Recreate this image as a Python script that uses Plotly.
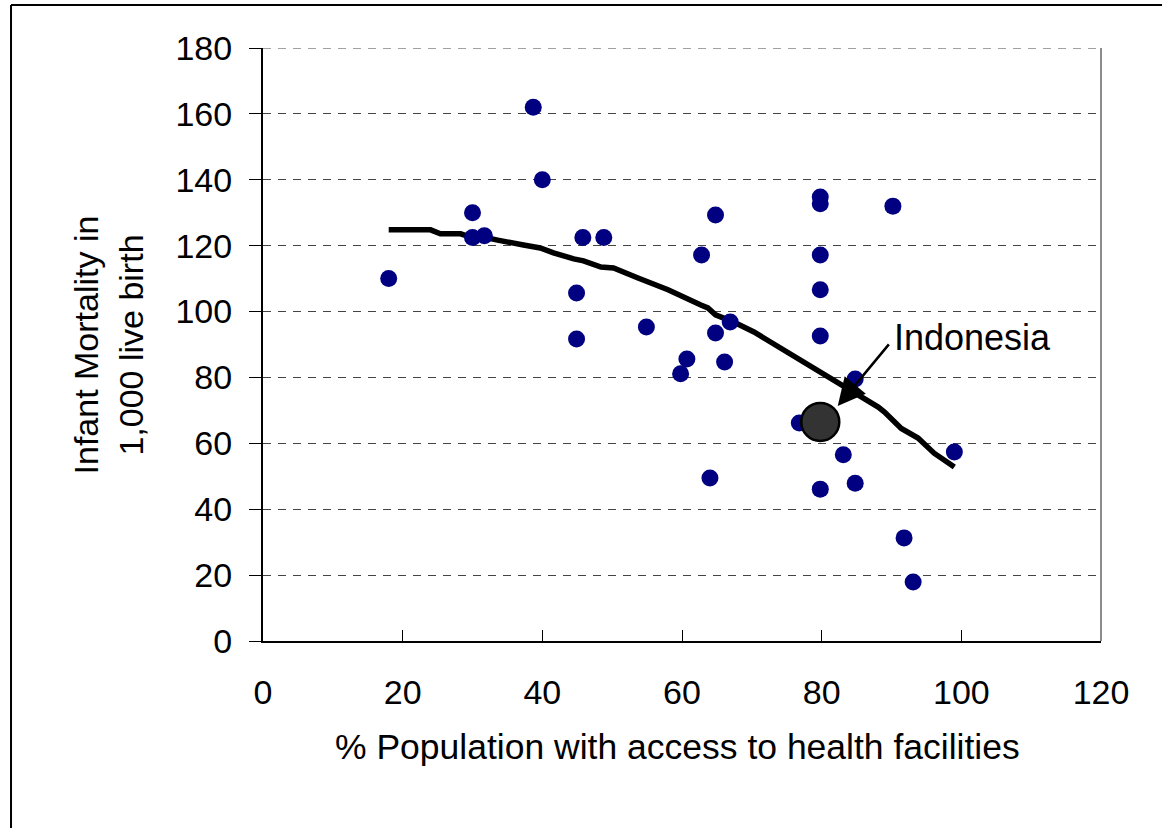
import plotly.graph_objects as go

# Country observations: % population with access to health facilities vs infant mortality
access_pct = [18, 30, 30, 31.7, 38.7, 40, 45.8, 48.8, 44.9, 44.9, 54.9, 64.8, 62.8,
              79.8, 79.8, 90.2, 79.8, 79.8, 79.8, 64.8, 66.9, 60.7, 59.8, 66.1,
              84.8, 76.8, 83.1, 64, 79.8, 84.8, 91.8, 93.1, 99]
infant_mort = [110, 130, 122.5, 123, 162, 140, 122.5, 122.5, 105.6, 91.7, 95.3, 129.3, 117.2,
               134.8, 132.7, 132, 117.2, 106.6, 92.6, 93.5, 96.8, 85.6, 81.1, 84.7,
               79.5, 66.2, 56.5, 49.5, 46.1, 47.9, 31.3, 17.9, 57.4]

# Indonesia highlight
indo_x = [79.8]
indo_y = [66.5]

# Smoothed trend line
trend_x = [18, 24, 25.4, 28.3, 29.7, 31.6, 33.6, 35.4, 37.3, 39.7, 41.6, 44.5, 45.9, 48.4,
           50.2, 53.7, 55.5, 58, 62.7, 63.7, 64.8, 67.4, 70.3, 71.7, 73.2, 77, 81.8,
           85.7, 88.1, 89, 91.4, 93.8, 96.1, 99]
trend_y = [124.8, 124.8, 123.6, 123.6, 122.6, 122.6, 121.7, 120.8, 120.2, 119.3, 117.8, 116,
           115.4, 113.5, 113.2, 110.2, 108.7, 106.6, 102, 101.1, 99, 96.8, 93.8, 92, 90.5,
           85.3, 79.2, 74.1, 71, 69.5, 64.5, 61.6, 57, 52.8]

x_ticks = [0, 20, 40, 60, 80, 100, 120]
y_ticks = [0, 20, 40, 60, 80, 100, 120, 140, 160, 180]

FONT = "Liberation Sans, Arial, sans-serif"
FS = 34
GRID = dict(color="#444444", width=1, dash="8px,7px")

fig = go.Figure()
fig.add_trace(go.Scatter(x=trend_x, y=trend_y, mode="lines",
                         line=dict(color="black", width=5.5), hoverinfo="skip",
                         showlegend=False))
fig.add_trace(go.Scatter(x=access_pct, y=infant_mort, mode="markers",
                         marker=dict(color="#000080", size=17, line=dict(width=0)),
                         showlegend=False))
fig.add_trace(go.Scatter(x=indo_x, y=indo_y, mode="markers",
                         marker=dict(color="#333333", size=38,
                                     line=dict(color="black", width=2.5)),
                         showlegend=False))

# Arrow to Indonesia
fig.add_annotation(x=82.3, y=71.3, ax=89.8, ay=90.5, xref="x", yref="y",
                   axref="x", ayref="y", text="", showarrow=True,
                   arrowhead=2, arrowsize=2.2, arrowwidth=2.5, arrowcolor="black")
fig.add_annotation(x=90.0, y=92, xref="x", yref="y", text="Indonesia",
                   showarrow=False, xanchor="left", yanchor="middle",
                   font=dict(family=FONT, size=36, color="black"))

# Axis titles
fig.add_annotation(x=0.4946, y=-0.1788, xref="paper", yref="paper",
                   text="% Population with access to health facilities",
                   showarrow=False, xanchor="center", yanchor="middle",
                   font=dict(family=FONT, size=35.5, color="black"))
fig.add_annotation(x=-0.1850, y=0.5, xref="paper", yref="paper",
                   text="Infant Mortality in<br>1,000 live birth", textangle=-90,
                   showarrow=False, xanchor="center", yanchor="middle",
                   font=dict(family=FONT, size=34, color="black"))

# Outer frame (left and top edges visible)
fig.add_shape(type="line", xref="paper", yref="paper", x0=-0.3007, x1=-0.3007,
              y0=1.0725, y1=-0.4, line=dict(color="black", width=2))
fig.add_shape(type="line", xref="paper", yref="paper", x0=-0.3007, x1=1.2,
              y0=1.0725, y1=1.0725, line=dict(color="black", width=2))
# Right border of plot area and top dashed gridline
fig.add_shape(type="line", xref="paper", yref="paper", x0=1, x1=1, y0=0, y1=1,
              line=dict(color="#666666", width=1.5))
fig.add_shape(type="line", xref="paper", yref="y", x0=0, x1=1, y0=180, y1=180,
              line=GRID)

fig.update_layout(
    width=1162, height=828,
    margin=dict(l=263, r=61, t=48, b=187, pad=0),
    paper_bgcolor="white", plot_bgcolor="white",
    font=dict(family=FONT, size=FS, color="black"),
    showlegend=False,
)
fig.update_xaxes(range=[0, 120], tickvals=x_ticks, ticktext=[str(v) for v in x_ticks],
                 ticks="inside", ticklen=11, tickwidth=1, tickcolor="black",
                 showline=True, linecolor="black", linewidth=2,
                 showgrid=False, zeroline=False, ticklabelstandoff=20,
                 tickfont=dict(family=FONT, size=FS, color="black"))
fig.update_yaxes(range=[0, 180], tickvals=y_ticks, ticktext=[str(v) for v in y_ticks],
                 ticks="outside", ticklen=12, tickwidth=1, tickcolor="black",
                 showline=True, linecolor="black", linewidth=2,
                 showgrid=True, gridcolor=GRID["color"], gridwidth=1, griddash=GRID["dash"],
                 zeroline=False, ticklabelstandoff=10,
                 tickfont=dict(family=FONT, size=FS, color="black"))

fig.write_html("out.html", config={"displayModeBar": False},
               post_script="document.body.style.margin='0';document.body.style.padding='0';")
